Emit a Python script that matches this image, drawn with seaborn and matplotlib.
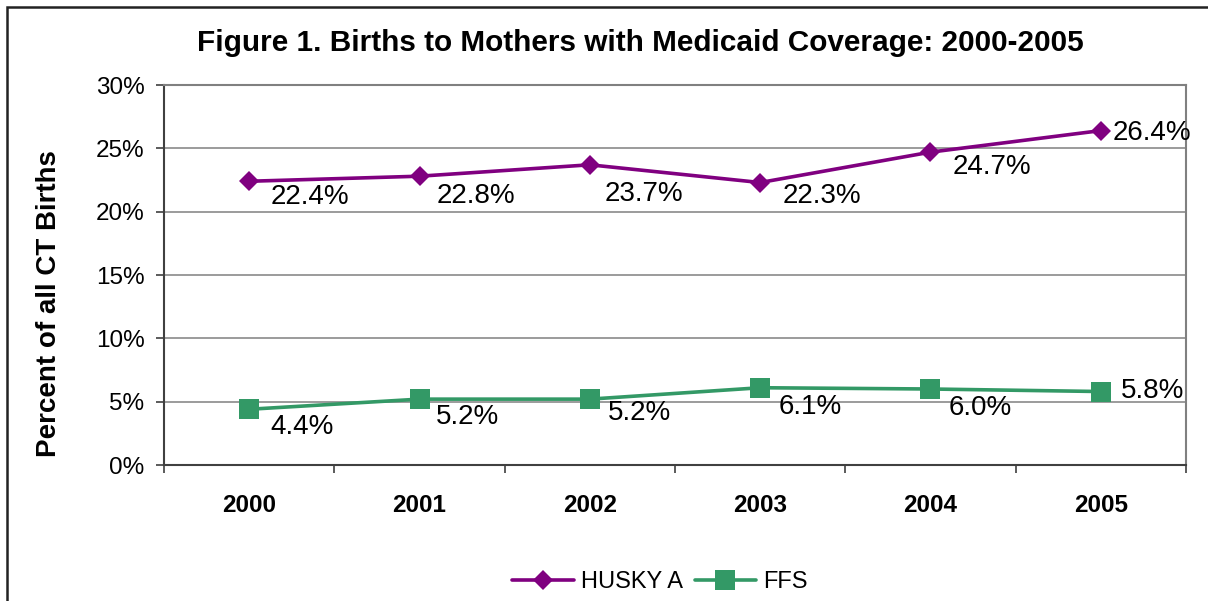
import numpy as np
import pandas as pd
import seaborn as sns
import matplotlib.pyplot as plt
from matplotlib.patches import Rectangle
from matplotlib.ticker import FuncFormatter, FixedLocator

# data
years = ["2000", "2001", "2002", "2003", "2004", "2005"]
husky_a = [22.4, 22.8, 23.7, 22.3, 24.7, 26.4]
ffs = [4.4, 5.2, 5.2, 6.1, 6.0, 5.8]
series_names = ["HUSKY A", "FFS"]

# label offsets in pixels (dx right, dy down) from each point
husky_offsets = [(21, 16), (17, 20), (15, 29), (22, 13), (22, 15), (12, 2)]
ffs_offsets = [(21, 18), (16, 18), (18, 14), (18, 19), (18, 19), (20, -1)]

W, H = 1208, 601
sns.set_style("white")
plt.rcParams["font.family"] = ["Liberation Sans", "DejaVu Sans"]
plt.rcParams["text.color"] = "black"
plt.rcParams["axes.labelcolor"] = "black"
plt.rcParams["xtick.color"] = "black"
plt.rcParams["ytick.color"] = "black"

fig = plt.figure(figsize=(W / 100, H / 100), dpi=100)
ax = fig.add_axes([164 / W, 136 / H, 1022 / W, 380 / H])

df = pd.DataFrame({
    "year": years * 2,
    "value": husky_a + ffs,
    "series": [series_names[0]] * len(years) + [series_names[1]] * len(years),
})

colors = {"HUSKY A": "#800080", "FFS": "#339966"}
markers = {"HUSKY A": "D", "FFS": "s"}
msizes = {"HUSKY A": 10.5, "FFS": 14}

for name in series_names:
    sub = df[df["series"] == name]
    sns.lineplot(data=sub, x="year", y="value", ax=ax, color=colors[name],
                 marker=markers[name], markersize=msizes[name],
                 markeredgewidth=0, linewidth=2.6, sort=False, label=name)

# data labels
px2pt = 72 / 100
for vals, offs in [(husky_a, husky_offsets), (ffs, ffs_offsets)]:
    for i, (v, (dx, dy)) in enumerate(zip(vals, offs)):
        ax.annotate("%.1f%%" % v, xy=(i, v), xytext=(dx * px2pt, -dy * px2pt),
                    textcoords="offset points", ha="left", va="center",
                    fontsize=20, color="black")

ax.set_xlim(-0.5, len(years) - 0.5)
ax.set_ylim(0, 30)
ax.set_yticks(np.arange(0, 31, 5))
ax.yaxis.set_major_formatter(FuncFormatter(lambda v, p: "%d%%" % v))
ax.yaxis.grid(True, color="#808080", linewidth=1.1)
ax.xaxis.grid(False)
ax.set_xlabel("")
ax.set_ylabel("")

ax.set_xticks(range(len(years)))
ax.set_xticklabels(years, fontsize=17.5, fontweight="bold")
ax.xaxis.set_minor_locator(FixedLocator(np.arange(-0.5, len(years), 1.0)))
ax.tick_params(axis="x", which="major", length=0, pad=21, labelcolor="black")
ax.tick_params(axis="x", which="minor", length=6, width=1.2, color="#404040",
               direction="out", bottom=True)
ax.tick_params(axis="y", which="major", length=6, width=1.2, color="#404040",
               direction="out", left=True, labelsize=17.5, pad=8,
               labelcolor="black")

for side in ["left", "bottom"]:
    ax.spines[side].set_color("#404040")
    ax.spines[side].set_linewidth(1.5)
for side in ["top", "right"]:
    ax.spines[side].set_color("#808080")
    ax.spines[side].set_linewidth(1.5)

ax.legend_.remove()
handles, labels = ax.get_legend_handles_labels()
leg = fig.legend(handles, labels, loc="center", bbox_to_anchor=(660 / W, 1 - 582 / H),
                 ncol=2, frameon=False, fontsize=17, handlelength=2.6,
                 handletextpad=0.3, columnspacing=0.5, borderaxespad=0)
for t in leg.get_texts():
    t.set_color("black")

fig.text(640 / W, 1 - 43 / H,
         "Figure 1. Births to Mothers with Medicaid Coverage: 2000-2005",
         ha="center", va="center", fontsize=21.4, fontweight="bold", color="black")
fig.text(49 / W, 1 - 304 / H, "Percent of all CT Births", rotation=90,
         ha="center", va="center", fontsize=20, fontweight="bold", color="black")

# outer chart border, cut off on the right and bottom like the reference
fig.patches.append(Rectangle((7 / W, -0.1), 1.2, 1 - 7 / H + 0.1,
                             transform=fig.transFigure, fill=False,
                             edgecolor="#222222", linewidth=1.8))

fig.savefig("out.png", dpi=100)
